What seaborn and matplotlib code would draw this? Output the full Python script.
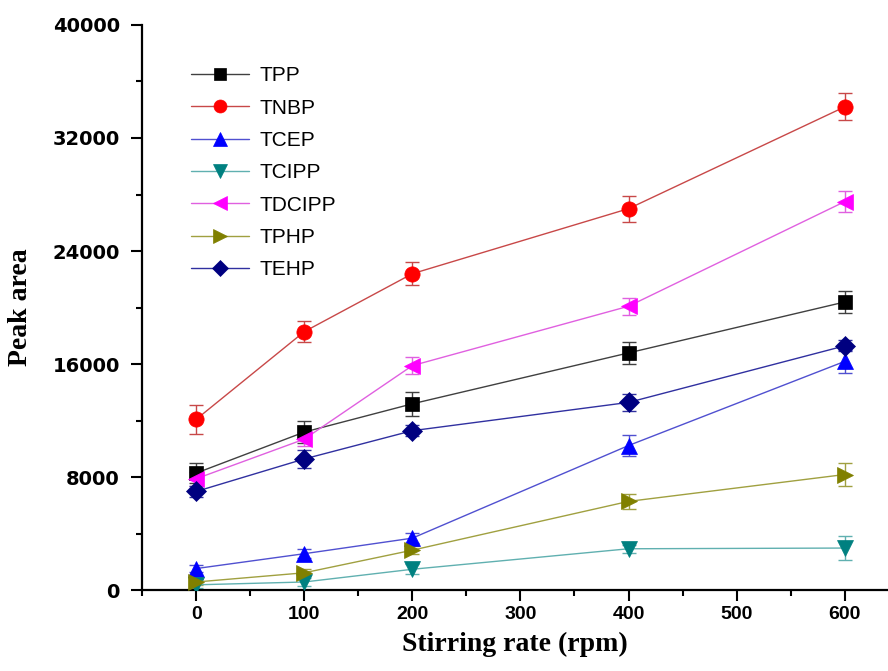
import numpy as np
import pandas as pd
import matplotlib
matplotlib.use("Agg")
import matplotlib.pyplot as plt
from matplotlib.ticker import MultipleLocator
import seaborn as sns

# Stirring rates (rpm)
rate = [0, 100, 200, 400, 600]

# Peak areas and error bars
tpp = [8300, 11200, 13200, 16800, 20400]
tpp_err = [700, 800, 850, 800, 800]
tnbp = [12100, 18300, 22400, 27000, 34200]
tnbp_err = [1000, 750, 800, 920, 960]
tcep = [1550, 2600, 3700, 10250, 16200]
tcep_err = [250, 300, 350, 760, 800]
tcipp = [400, 600, 1500, 2950, 3000]
tcipp_err = [250, 300, 350, 300, 870]
tdcipp = [7900, 10700, 15900, 20100, 27500]
tdcipp_err = [500, 500, 600, 600, 750]
tphp = [600, 1250, 2850, 6300, 8200]
tphp_err = [200, 250, 300, 540, 830]
tehp = [7000, 9300, 11300, 13300, 17300]
tehp_err = [400, 640, 400, 590, 400]

names = ["TPP", "TNBP", "TCEP", "TCIPP", "TDCIPP", "TPHP", "TEHP"]
values = [tpp, tnbp, tcep, tcipp, tdcipp, tphp, tehp]
errors = [tpp_err, tnbp_err, tcep_err, tcipp_err, tdcipp_err, tphp_err, tehp_err]

marker_colors = ["#000000", "#ff0000", "#0000ff", "#008080", "#ff00ff", "#808000", "#000080"]
line_colors = ["#404040", "#c84848", "#5050d0", "#60b0b0", "#e060e0", "#a0a040", "#3030a0"]
markers = ["s", "o", "^", "v", "<", ">", "D"]
msizes = [10, 11, 12, 12, 12, 12, 10]

sns.set_style("ticks")

fig = plt.figure(figsize=(8.88, 6.71), dpi=100)
ax = fig.add_axes([0.16, 0.12, 0.84, 0.843])

for name, y, err, mc, lc, mk, ms in zip(names, values, errors, marker_colors,
                                         line_colors, markers, msizes):
    df = pd.DataFrame({"rate": rate, "area": y})
    ax.errorbar(df["rate"], df["area"], yerr=err, fmt="none", ecolor=lc,
                elinewidth=1, capsize=5, capthick=1, zorder=2)
    sns.lineplot(data=df, x="rate", y="area", ax=ax, color=lc, linewidth=1,
                 marker=mk, markersize=ms, markerfacecolor=mc,
                 markeredgecolor=mc, markeredgewidth=0.5, label=name, zorder=3)

ax.set_xlim(-50, 640)
ax.set_ylim(0, 40000)
ax.xaxis.set_major_locator(MultipleLocator(100))
ax.xaxis.set_minor_locator(MultipleLocator(50))
ax.yaxis.set_major_locator(MultipleLocator(8000))
ax.yaxis.set_minor_locator(MultipleLocator(4000))

sns.despine(ax=ax)
for sp in ["left", "bottom"]:
    ax.spines[sp].set_linewidth(1.6)
    ax.spines[sp].set_color("black")
ax.tick_params(which="major", direction="out", length=8, width=1.5,
               color="black", labelcolor="black")
ax.tick_params(which="minor", direction="out", length=4, width=1.5,
               color="black")
ax.tick_params(axis="y", which="major", pad=8)

for lab in ax.get_xticklabels():
    lab.set_fontfamily("Liberation Sans")
    lab.set_fontweight("bold")
    lab.set_fontsize(14)
for lab in ax.get_yticklabels():
    lab.set_fontfamily("DejaVu Sans")
    lab.set_fontweight("bold")
    lab.set_fontsize(14)

ax.set_xlabel("Stirring rate (rpm)", fontfamily="Liberation Serif",
              fontweight="bold", fontsize=20, labelpad=6, color="black")
ax.set_ylabel("Peak area", fontfamily="Liberation Serif",
              fontweight="bold", fontsize=20, labelpad=14, color="black")

leg = ax.legend(loc="upper left", bbox_to_anchor=(0.04, 0.96), frameon=False,
                prop={"family": "Liberation Sans", "size": 15},
                handlelength=2.8, labelspacing=0.64, handletextpad=0.5,
                markerscale=0.85)
for t in leg.get_texts():
    t.set_color("black")

fig.savefig("out.png", dpi=100)
